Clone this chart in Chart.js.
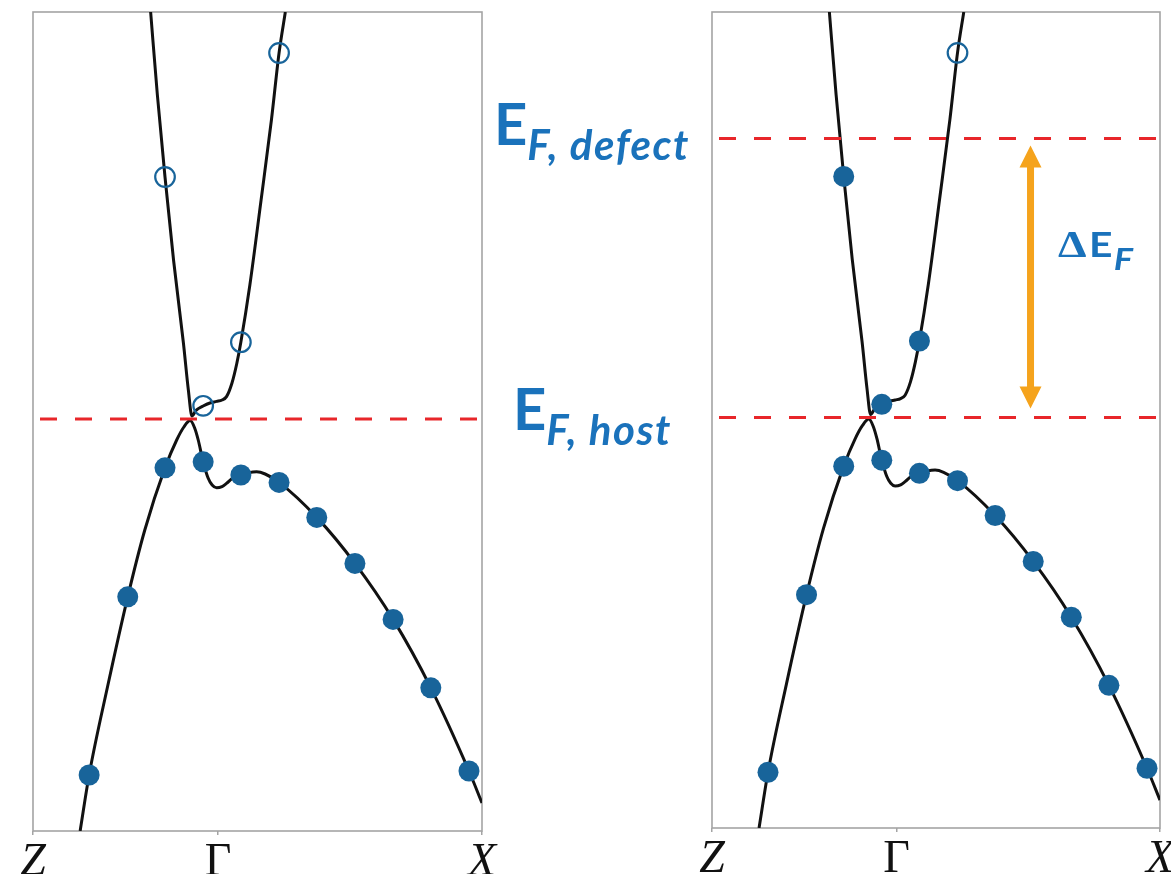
<!DOCTYPE html>
<html>
<head>
<meta charset="utf-8">
<script src="https://cdn.jsdelivr.net/npm/chart.js@4"></script>
<style>
  html, body { margin: 0; padding: 0; background: #fff; }
  body { width: 1171px; height: 874px; overflow: hidden; position: relative; }
  canvas { position: absolute; top: 0; }
  svg { position: absolute; left: 0; top: 0; pointer-events: none; }
</style>
</head>
<body>
<canvas id="hostPanel" width="520" height="874" style="left:0px"></canvas>
<canvas id="defectPanel" width="520" height="874" style="left:680px"></canvas>
<svg width="1171" height="874" xmlns="http://www.w3.org/2000/svg">
  <g fill="#1a72bb" font-family="Lato, 'Open Sans', sans-serif" font-weight="700">
    <text x="494" y="145" font-size="58">E<tspan font-size="42" font-style="italic" letter-spacing="1.5" dy="15">F, defect</tspan></text>
    <text x="513" y="430" font-size="58">E<tspan font-size="42" font-style="italic" letter-spacing="1.5" dy="15">F, host</tspan></text>
    <g transform="translate(1058,257) scale(1.2,1)">
      <text x="0" y="0" font-size="34"><tspan font-family="'Liberation Serif', serif" font-size="38" font-weight="700">Δ</tspan><tspan dx="2">E</tspan><tspan font-size="30" font-style="italic" dx="1" dy="13">F</tspan></text>
    </g>
  </g>
</svg>
<script>
// k-path: fractional position along Z – Γ – X
const kTicks = [0, 0.412, 1];
const kLabels = ['Z', 'Γ', 'X'];

// energy window (meV, relative to the host Fermi level)
const eMin = -206;
const eMax = 203.5;

// Fermi levels (meV)
const efHost = 0;
const efDefect = 140;

// upper band traced along the path
const cbK = [0.262, 0.277, 0.294, 0.313, 0.335, 0.346, 0.354, 0.363, 0.379, 0.394, 0.409,
             0.421, 0.431, 0.443, 0.454, 0.463, 0.483, 0.508, 0.531, 0.548, 0.562];
const cbE = [203.5, 162, 121, 79.5, 38, 14.5, 1.5, 4.3, 6.5, 8, 8.8,
             9.5, 11.2, 17.9, 27.9, 38.5, 67, 109.5, 149.5, 183, 203.5];

// lower band traced along the path
const vbK = [0.105, 0.125, 0.166, 0.211, 0.249, 0.294, 0.320, 0.336, 0.350, 0.360, 0.368,
             0.379, 0.390, 0.399, 0.409, 0.421, 0.431, 0.445, 0.463, 0.481, 0.498, 0.517,
             0.548, 0.632, 0.717, 0.802, 0.886, 0.971, 1.0];
const vbE = [-206, -178, -133.9, -88.9, -55.5, -24.4, -10.5, -4, -0.8, -4.5, -10.5,
             -21.4, -29.5, -33, -34.4, -33.8, -32.2, -29.5, -28, -26.8, -26.4, -27.5,
             -31.7, -49.2, -72.2, -100.2, -134.4, -176, -192];

// k-mesh states sampled on each band
const vbMarkK = [0.125, 0.211, 0.294, 0.379, 0.463, 0.548, 0.632, 0.717, 0.802, 0.886, 0.971];
const vbMarkE = [-178, -88.9, -24.4, -21.4, -28, -31.7, -49.2, -72.2, -100.2, -134.4, -176];
const cbMarkK = [0.294, 0.379, 0.463, 0.548];
const cbMarkE = [121, 6.6, 38.4, 183];

// arrow marking the Fermi level shift
const kArrow = 0.711;

const bandColor = '#111111';
const stateColor = '#18649a';
const fermiColor = '#e8262a';
const arrowColor = '#f5a31c';

const pts = (ks, es) => ks.map((k, i) => ({ x: k, y: es[i] }));

function buildDatasets(fermiLevels, ef) {
  const states = [
    ...pts(vbMarkK, vbMarkE),
    ...pts(cbMarkK, cbMarkE)
  ];
  const filled = states.filter(p => p.y < ef);
  const empty = states.filter(p => p.y >= ef);
  const sets = [
    { data: pts(cbK, cbE), borderColor: bandColor, borderWidth: 3, pointRadius: 0,
      cubicInterpolationMode: 'monotone', order: 3 },
    { data: pts(vbK, vbE), borderColor: bandColor, borderWidth: 3, pointRadius: 0,
      cubicInterpolationMode: 'monotone', order: 3 }
  ];
  fermiLevels.forEach(e => sets.push({
    data: [{ x: 0, y: e }, { x: 1, y: e }], borderColor: fermiColor, borderWidth: 3,
    borderDash: [17, 18], borderDashOffset: 28, pointRadius: 0, order: 2
  }));
  sets.push({ data: filled, showLine: false, pointRadius: 10.5, pointBorderWidth: 0,
    pointBackgroundColor: stateColor, pointBorderColor: stateColor, order: 1 });
  sets.push({ data: empty, showLine: false, pointRadius: 9.8, pointBorderWidth: 2.2,
    pointBackgroundColor: 'rgba(0,0,0,0)', pointBorderColor: stateColor, order: 1 });
  return sets;
}

const framePlugin = {
  id: 'frame',
  beforeDatasetsDraw(chart) {
    const { ctx, chartArea: a } = chart;
    ctx.save();
    ctx.strokeStyle = '#a4a4a4';
    ctx.lineWidth = 1.6;
    ctx.strokeRect(a.left, a.top, a.width, a.height);
    ctx.restore();
  }
};

const arrowPlugin = {
  id: 'shiftArrow',
  afterDatasetsDraw(chart, args, opts) {
    if (!opts.show) return;
    const { ctx } = chart;
    const x = chart.scales.x.getPixelForValue(kArrow);
    const yTop = chart.scales.y.getPixelForValue(efDefect) + 7;
    const yBot = chart.scales.y.getPixelForValue(efHost) - 9;
    const head = 22, half = 11;
    ctx.save();
    ctx.fillStyle = arrowColor;
    ctx.fillRect(x - 3.5, yTop + head - 1, 7, (yBot - head) - (yTop + head) + 2);
    ctx.beginPath();
    ctx.moveTo(x, yTop); ctx.lineTo(x + half, yTop + head); ctx.lineTo(x - half, yTop + head);
    ctx.closePath(); ctx.fill();
    ctx.beginPath();
    ctx.moveTo(x, yBot); ctx.lineTo(x + half, yBot - head); ctx.lineTo(x - half, yBot - head);
    ctx.closePath(); ctx.fill();
    ctx.restore();
  }
};

function makePanel(id, fermiLevels, ef, pad, axisHeight, showArrow) {
  new Chart(document.getElementById(id), {
    type: 'line',
    data: { datasets: buildDatasets(fermiLevels, ef) },
    options: {
      responsive: false,
      animation: false,
      events: [],
      layout: { padding: pad },
      plugins: { legend: { display: false }, tooltip: { enabled: false }, shiftArrow: { show: showArrow } },
      scales: {
        x: {
          type: 'linear', min: 0, max: 1,
          afterBuildTicks: axis => { axis.ticks = kTicks.map(v => ({ value: v })); },
          afterFit: axis => { axis.height = axisHeight; },
          border: { display: false },
          grid: { display: true, drawOnChartArea: false, drawTicks: true, tickLength: 4,
                  color: '#a4a4a4', lineWidth: 1.5 },
          ticks: {
            autoSkip: false, maxRotation: 0, padding: 0, color: '#111',
            font: ctx => ({ family: '"Liberation Serif", "DejaVu Serif", serif', size: 46,
                            style: ctx.index === 1 ? 'normal' : 'italic' }),
            callback: (v, i) => kLabels[i]
          }
        },
        y: { type: 'linear', min: eMin, max: eMax, display: false }
      }
    },
    plugins: [framePlugin, arrowPlugin]
  });
}

makePanel('hostPanel', [efHost], efHost, { left: 33, right: 38, top: 12, bottom: 0 }, 43, false);
makePanel('defectPanel', [efHost, efDefect], efDefect, { left: 32, right: 40, top: 9, bottom: 0 }, 46, true);
</script>
</body>
</html>
